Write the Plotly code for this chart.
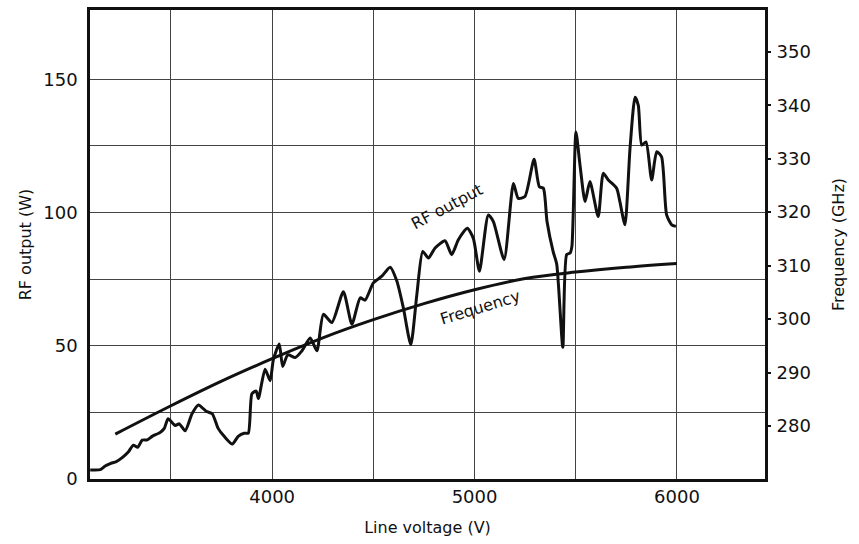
import plotly.graph_objects as go

# RF output trace (line voltage in V, output power in W)
rf_voltage = [3101, 3151, 3175, 3200, 3230, 3259, 3289, 3314, 3336, 3358, 3383, 3407,
              3447, 3467, 3486, 3521, 3541, 3570, 3604, 3636, 3674, 3704, 3733, 3763,
              3803, 3832, 3862, 3882, 3900, 3921, 3932, 3965, 3990, 4006, 4035, 4052,
              4077, 4114, 4147, 4188, 4221, 4253, 4295, 4352, 4394, 4435, 4459, 4500,
              4542, 4583, 4616, 4648, 4685, 4715, 4744, 4772, 4805, 4854, 4887, 4920,
              4964, 4994, 5024, 5068, 5093, 5146, 5192, 5216, 5249, 5294, 5320, 5340,
              5358, 5388, 5406, 5436, 5455, 5472, 5481, 5501, 5521, 5546, 5570, 5611,
              5636, 5661, 5702, 5718, 5743, 5768, 5793, 5809, 5826, 5847, 5875, 5900,
              5924, 5949, 5974, 5995]
rf_power = [3.4, 3.5, 4.9, 5.8, 6.5, 8.0, 10.1, 12.7, 11.9, 14.6, 14.7, 16.0,
            17.5, 19.0, 22.6, 20.1, 20.7, 18.1, 24.5, 27.8, 25.4, 24.5, 19.0, 16.0,
            13.1, 16.0, 17.2, 17.2, 32.0, 33.0, 30.2, 41.2, 36.9, 44.8, 50.7, 42.2,
            46.6, 45.6, 48.1, 52.9, 48.1, 61.8, 58.7, 70.3, 58.1, 68.0, 67.1, 73.6,
            76.1, 79.5, 74.3, 64.3, 50.4, 69.3, 85.4, 82.9, 86.7, 89.4, 84.2, 89.8,
            94.1, 90.3, 78.0, 99.1, 96.6, 82.4, 110.9, 105.3, 106.0, 120.0, 109.7, 109.1,
            96.6, 85.4, 80.6, 49.4, 84.2, 84.8, 87.3, 130.2, 117.8, 104.1, 111.6, 98.5,
            114.7, 112.2, 109.1, 104.1, 95.4, 124.0, 143.3, 140.2, 125.3, 126.5, 112.2, 122.8,
            120.9, 99.1, 95.4, 94.8]

# Oscillation frequency (GHz) against line voltage
freq_voltage = [3225, 3500, 3750, 4000, 4250, 4500, 4750, 5000, 5250, 5500, 5750, 6000]
freq_ghz = [278.5, 283.8, 288.4, 292.6, 296.5, 299.9, 302.9, 305.5, 307.6, 308.8, 309.7, 310.4]

x_grid = [3500, 4000, 4500, 5000, 5500, 6000]
x_labels = ["", "4000", "", "5000", "", "6000"]
w_grid = [0, 25, 50, 75, 100, 125, 150]
w_labels = ["0", "", "50", "", "100", "", "150"]
ghz_ticks = [280, 290, 300, 310, 320, 330, 340, 350]

FONT = "DejaVu Sans"
INK = "#111111"

fig = go.Figure()
fig.add_trace(go.Scatter(
    x=rf_voltage, y=rf_power, mode="lines",
    line=dict(color=INK, width=3, shape="spline", smoothing=0.6),
    showlegend=False, yaxis="y"))
fig.add_trace(go.Scatter(
    x=freq_voltage, y=freq_ghz, mode="lines",
    line=dict(color=INK, width=3, shape="spline", smoothing=1.0),
    showlegend=False, yaxis="y2"))

fig.add_annotation(x=4864, y=102.2, xref="x", yref="y", text="RF output",
                   showarrow=False, textangle=-28,
                   font=dict(family=FONT, size=16, color=INK))
fig.add_annotation(x=5027, y=64.2, xref="x", yref="y", text="Frequency",
                   showarrow=False, textangle=-17,
                   font=dict(family=FONT, size=16, color=INK))

fig.update_layout(
    width=859, height=544,
    margin=dict(l=90, r=94, t=7, b=65),
    paper_bgcolor="white", plot_bgcolor="white",
    font=dict(family=FONT, color=INK),
    xaxis=dict(
        range=[3100, 6435], tickvals=x_grid, ticktext=x_labels,
        showgrid=True, gridcolor="#444444", gridwidth=1,
        showline=True, linecolor=INK, linewidth=2.5, mirror=True,
        ticks="", tickfont=dict(size=18), zeroline=False,
        title=dict(text="Line voltage (V)", font=dict(size=16), standoff=16)),
    yaxis=dict(
        range=[0, 176], tickvals=w_grid, ticktext=w_labels,
        showgrid=True, gridcolor="#444444", gridwidth=1,
        showline=True, linecolor=INK, linewidth=2.5, mirror=True,
        ticks="", tickfont=dict(size=18), zeroline=False,
        ticklabelstandoff=6,
        title=dict(text="RF output (W)", font=dict(size=16), standoff=8)),
    yaxis2=dict(
        range=[270.1, 357.8], tickvals=ghz_ticks, overlaying="y", side="right",
        showgrid=False, zeroline=False, showline=False,
        ticks="outside", ticklen=5, tickwidth=1.5, tickcolor=INK,
        tickfont=dict(size=18), ticklabelstandoff=2,
        title=dict(text="Frequency (GHz)", font=dict(size=16), standoff=22)),
)

fig.write_html("out.html")
